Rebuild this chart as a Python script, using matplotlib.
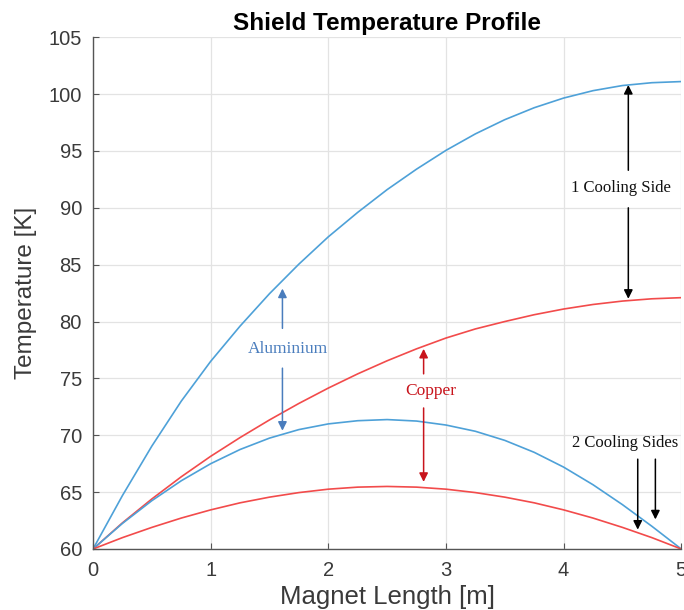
import matplotlib
matplotlib.use("Agg")
import matplotlib.pyplot as plt

# ---- data ----
x_m = [0.0, 0.25, 0.5, 0.75, 1.0, 1.25, 1.5, 1.75, 2.0, 2.25, 2.5,
       2.75, 3.0, 3.25, 3.5, 3.75, 4.0, 4.25, 4.5, 4.75, 5.0]
al_one_side = [60.0, 64.7, 69.05, 73.0, 76.5, 79.6, 82.45, 85.05, 87.45, 89.6, 91.6,
               93.4, 95.05, 96.5, 97.75, 98.8, 99.65, 100.3, 100.75, 101.0, 101.1]
cu_one_side = [60.0, 62.3, 64.4, 66.35, 68.15, 69.8, 71.35, 72.8, 74.15, 75.4, 76.55,
               77.6, 78.55, 79.35, 80.0, 80.6, 81.1, 81.5, 81.8, 82.0, 82.1]
al_two_sides = [60.0, 62.25, 64.25, 66.0, 67.5, 68.75, 69.75, 70.5, 71.0, 71.28, 71.38,
                71.25, 70.9, 70.35, 69.55, 68.5, 67.2, 65.65, 63.9, 62.0, 60.0]
cu_two_sides = [60.0, 61.0, 61.9, 62.72, 63.44, 64.06, 64.56, 64.96, 65.26, 65.44, 65.5,
                65.44, 65.26, 64.96, 64.56, 64.06, 63.44, 62.72, 61.9, 61.0, 60.0]

x_ticks = [0, 1, 2, 3, 4, 5]
y_ticks = [60, 65, 70, 75, 80, 85, 90, 95, 100, 105]

title = "Shield Temperature Profile"
xlabel = "Magnet Length [m]"
ylabel = "Temperature [K]"

plt.rcParams['font.family'] = ['Liberation Sans', 'DejaVu Sans']
serif = ['Liberation Serif', 'DejaVu Serif']

fig = plt.figure(figsize=(6.84, 6.10), dpi=100)
ax = fig.add_axes([0.136, 0.100, 0.860, 0.839])

blue = '#4ea1d8'
red = '#f24b4b'
ax.plot(x_m, al_one_side, color=blue, lw=1.2)
ax.plot(x_m, cu_one_side, color=red, lw=1.2)
ax.plot(x_m, al_two_sides, color=blue, lw=1.2)
ax.plot(x_m, cu_two_sides, color=red, lw=1.2)

ax.set_xlim(0, 5)
ax.set_ylim(60, 105)
ax.set_xticks(x_ticks)
ax.set_yticks(y_ticks)
ax.grid(True, color='#e3e3e3', lw=0.9)
ax.set_axisbelow(True)
for s in ['top', 'right']:
    ax.spines[s].set_visible(False)
for s in ['left', 'bottom']:
    ax.spines[s].set_color('#555555')
    ax.spines[s].set_linewidth(1.0)
ax.tick_params(direction='in', length=4, width=0.8, colors='#555555',
               labelcolor='#3a3a3a', labelsize=14.5)
ax.tick_params(axis='x', pad=9)
ax.tick_params(axis='y', pad=8)

ax.set_title(title, fontsize=17.5, fontweight='bold', pad=5)
ax.set_xlabel(xlabel, fontsize=18.5, color='#3a3a3a', labelpad=3)
ax.set_ylabel(ylabel, fontsize=17.5, color='#3a3a3a', labelpad=8)

def arrow(x0, y0, x1, y1, color):
    ax.annotate('', xy=(x1, y1), xytext=(x0, y0),
                arrowprops=dict(arrowstyle='-|>', color=color, lw=1.1,
                                mutation_scale=13, shrinkA=0, shrinkB=0))

fs = 12.5
# 1 Cooling Side
ax.text(4.49, 91.7, '1 Cooling Side', fontsize=12, family=serif,
        ha='center', va='center', color='#111111')
arrow(4.55, 93.3, 4.55, 100.8, 'black')
arrow(4.55, 90.0, 4.55, 82.0, 'black')

# Aluminium
alc = '#4a7dbd'
ax.text(1.66, 77.6, 'Aluminium', fontsize=fs, family=serif,
        ha='center', va='center', color=alc)
arrow(1.61, 79.4, 1.61, 82.9, alc)
arrow(1.61, 75.9, 1.61, 70.4, alc)

# Copper
cuc = '#c8141c'
ax.text(2.87, 73.9, 'Copper', fontsize=fs, family=serif,
        ha='center', va='center', color=cuc)
arrow(2.81, 75.4, 2.81, 77.6, cuc)
arrow(2.81, 72.4, 2.81, 65.9, cuc)

# 2 Cooling Sides
ax.text(4.52, 69.3, '2 Cooling Sides', fontsize=12, family=serif,
        ha='center', va='center', color='#111111')
arrow(4.63, 67.9, 4.63, 61.7, 'black')
arrow(4.78, 67.9, 4.78, 62.6, 'black')

fig.savefig('out.png', dpi=100)
